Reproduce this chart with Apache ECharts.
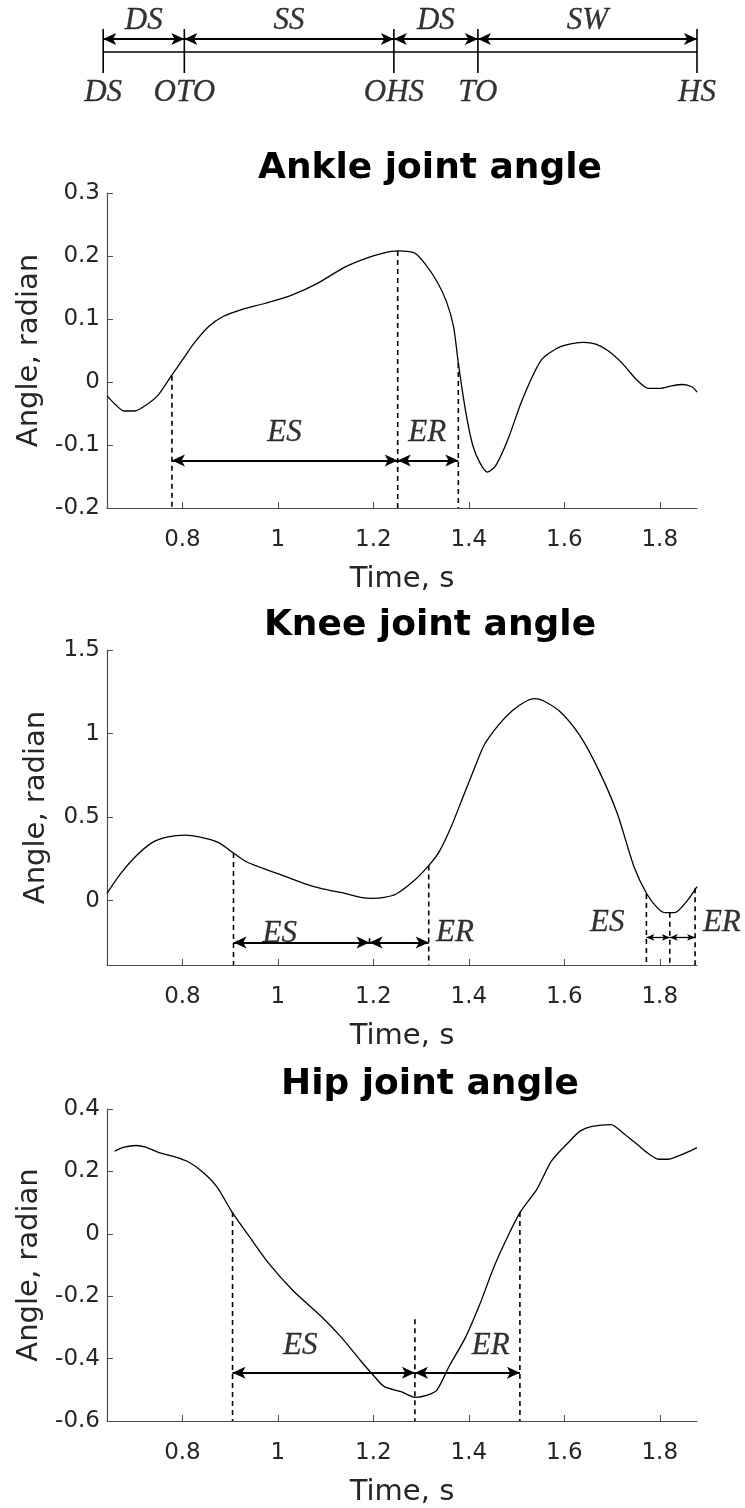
<!DOCTYPE html>
<html>
<head>
<meta charset="utf-8">
<title>Joint angles over a gait cycle</title>
<script src="https://cdn.jsdelivr.net/npm/echarts@6/dist/echarts.min.js"></script>
<style>
  html, body { margin: 0; padding: 0; background: #ffffff; }
  #chart { width: 745px; height: 1508px; }
</style>
</head>
<body>
<div id="chart"></div>
<script>
// ---- Time axis shared by all panels ----
const timeRange = [0.642, 1.878];
const timeTicks = [0.8, 1, 1.2, 1.4, 1.6, 1.8];

// ---- Gait events (top schematic) ----
const eventNames = ['DS', 'OTO', 'OHS', 'TO', 'HS'];
const eventTimes = [0.634, 0.804, 1.243, 1.419, 1.878];
const phaseNames = ['DS', 'SS', 'DS', 'SW'];

// ---- Ankle joint angle ----
const ankleTime = [0.642, 0.660, 0.677, 0.700, 0.725, 0.750, 0.777, 0.800, 0.825, 0.855,
  0.885, 0.924, 0.974, 1.029, 1.084, 1.139, 1.183, 1.223, 1.251, 1.275,
  1.288, 1.308, 1.333, 1.353, 1.368, 1.378, 1.393, 1.408, 1.423, 1.439,
  1.457, 1.482, 1.512, 1.552, 1.592, 1.641, 1.666, 1.691, 1.721, 1.751,
  1.776, 1.800, 1.825, 1.848, 1.868, 1.878];
const ankleAngle = [-0.022, -0.036, -0.046, -0.046, -0.036, -0.020, 0.010, 0.035, 0.062, 0.088,
  0.104, 0.115, 0.125, 0.138, 0.157, 0.182, 0.196, 0.205, 0.208, 0.207,
  0.204, 0.188, 0.160, 0.128, 0.088, 0.030, -0.045, -0.100, -0.128, -0.143,
  -0.132, -0.091, -0.028, 0.035, 0.056, 0.063, 0.060, 0.050, 0.030, 0.004,
  -0.010, -0.010, -0.006, -0.004, -0.008, -0.016];
const ankleTicks = [-0.2, -0.1, 0, 0.1, 0.2, 0.3];
const ankleMarkTime = [0.778, 1.251, 1.378];
const ankleMarkTop = [0.010, 0.208, 0.030];
const ankleSpans = [[0.778, 1.251, -0.1245], [1.251, 1.378, -0.1245]];
const ankleTags = [['ES', 1.014, -0.081], ['ER', 1.313, -0.081]];

// ---- Knee joint angle ----
const kneeTime = [0.642, 0.671, 0.705, 0.740, 0.770, 0.805, 0.835, 0.875, 0.907, 0.934,
  0.969, 1.014, 1.054, 1.094, 1.134, 1.173, 1.198, 1.223, 1.248, 1.283,
  1.316, 1.338, 1.363, 1.388, 1.413, 1.432, 1.462, 1.492, 1.517, 1.537,
  1.557, 1.592, 1.632, 1.672, 1.711, 1.746, 1.773, 1.796, 1.812, 1.831,
  1.856, 1.878];
const kneeAngle = [0.044, 0.163, 0.273, 0.353, 0.382, 0.392, 0.382, 0.349, 0.285, 0.233,
  0.193, 0.147, 0.104, 0.070, 0.048, 0.020, 0.014, 0.020, 0.040, 0.114,
  0.210, 0.293, 0.442, 0.622, 0.801, 0.930, 1.050, 1.139, 1.189, 1.209,
  1.195, 1.129, 0.990, 0.781, 0.522, 0.203, 0.040, -0.046, -0.072, -0.072,
  -0.006, 0.084];
const kneeTicks = [0, 0.5, 1, 1.5];
const kneeMarkTime = [0.907, 1.316, 1.772, 1.821, 1.874];
const kneeMarkTop = [0.285, 0.210, 0.040, -0.072, 0.075];
const kneeSplitMark = [1.192, -0.225, -0.275];
const kneeSpans = [[0.907, 1.192, -0.25], [1.192, 1.316, -0.25]];
const kneeShortSpans = [[1.772, 1.821, -0.22], [1.821, 1.874, -0.22]];
const kneeTags = [['ES', 1.004, -0.20], ['ER', 1.371, -0.19], ['ES', 1.69, -0.13], ['ER', 1.93, -0.13]];

// ---- Hip joint angle ----
const hipTime = [0.658, 0.678, 0.703, 0.723, 0.748, 0.783, 0.813, 0.843, 0.873, 0.903,
  0.943, 0.983, 1.033, 1.093, 1.133, 1.173, 1.203, 1.223, 1.258, 1.288,
  1.313, 1.333, 1.358, 1.393, 1.423, 1.453, 1.483, 1.508, 1.543, 1.573,
  1.608, 1.633, 1.658, 1.698, 1.723, 1.753, 1.778, 1.798, 1.818, 1.838,
  1.863, 1.878];
const hipAngle = [0.265, 0.278, 0.283, 0.278, 0.262, 0.247, 0.230, 0.197, 0.149, 0.072,
  -0.015, -0.099, -0.184, -0.268, -0.332, -0.406, -0.459, -0.490, -0.506, -0.524,
  -0.517, -0.501, -0.427, -0.332, -0.226, -0.105, -0.004, 0.070, 0.144, 0.233,
  0.292, 0.329, 0.344, 0.350, 0.323, 0.286, 0.255, 0.239, 0.239, 0.249,
  0.265, 0.276];
const hipTicks = [-0.6, -0.4, -0.2, 0, 0.2, 0.4];
const hipMarkTime = [0.905, 1.287, 1.507];
const hipMarkTop = [0.070, -0.274, 0.070];
const hipSpans = [[0.905, 1.287, -0.445], [1.287, 1.507, -0.445]];
const hipTags = [['ES', 1.047, -0.358], ['ER', 1.446, -0.358]];

// ---- Styling ----
const SANS = 'DejaVu Sans';
const SERIF = 'Liberation Serif';
const INK = '#262626';
const AXIS = '#4d4d4d';

const panels = [
  { title: 'Ankle joint angle', top: 193, yMin: -0.2, yMax: 0.3, ticks: ankleTicks,
    t: ankleTime, v: ankleAngle, markT: ankleMarkTime, markTop: ankleMarkTop,
    spans: ankleSpans, tags: ankleTags },
  { title: 'Knee joint angle', top: 650, yMin: -0.385, yMax: 1.5, ticks: kneeTicks,
    t: kneeTime, v: kneeAngle, markT: kneeMarkTime, markTop: kneeMarkTop,
    spans: kneeSpans, shortSpans: kneeShortSpans, tags: kneeTags, split: kneeSplitMark },
  { title: 'Hip joint angle', top: 1109, yMin: -0.6, yMax: 0.4, ticks: hipTicks,
    t: hipTime, v: hipAngle, markT: hipMarkTime, markTop: hipMarkTop,
    spans: hipSpans, tags: hipTags }
];

const PLOT_LEFT = 107, PLOT_WIDTH = 590, PLOT_HEIGHT = 315;
const PX_PER_SECOND = PLOT_WIDTH / (timeRange[1] - timeRange[0]);
const grids = [], xAxes = [], yAxes = [], series = [], graphics = [];

const dashStyle = { color: '#000', width: 1.6, type: [5, 4] };
// double-headed arrows between two times at a given level
const arrowLine = (spans, head, width) => ({
  silent: true, animation: false, symbol: ['arrow', 'arrow'], symbolSize: head,
  label: { show: false },
  lineStyle: { color: '#000', width: width, type: 'solid' },
  emphasis: { disabled: true },
  data: spans.map(s => [{ coord: [s[0], s[2]] }, { coord: [s[1], s[2]] }])
});
const tagSeries = (idx, tags, size) => ({
  type: 'scatter', xAxisIndex: idx, yAxisIndex: idx, clip: false, symbolSize: 0,
  silent: true, animation: false,
  data: tags.map(g => ({ name: g[0], value: [g[1], g[2]] })),
  label: { show: true, position: 'inside', formatter: '{b}', fontFamily: SERIF,
           fontStyle: 'italic', fontSize: size, color: '#000',
           textBorderColor: '#000', textBorderWidth: 0.3 }
});

panels.forEach((p, i) => {
  grids.push({ left: PLOT_LEFT, width: PLOT_WIDTH, top: p.top, height: PLOT_HEIGHT });
  xAxes.push({
    type: 'value', gridIndex: i, min: timeRange[0], max: timeRange[1],
    name: 'Time, s', nameLocation: 'middle', nameGap: 57,
    nameTextStyle: { fontFamily: SANS, fontSize: 29, color: INK },
    axisLine: { show: true, onZero: false, lineStyle: { color: AXIS, width: 1.2 } },
    axisTick: { show: true, inside: true, length: 6, customValues: timeTicks, lineStyle: { color: AXIS } },
    axisLabel: { customValues: timeTicks, fontFamily: SANS, fontSize: 23, color: INK, margin: 21 },
    splitLine: { show: false }
  });
  yAxes.push({
    type: 'value', gridIndex: i, min: p.yMin, max: p.yMax,
    name: 'Angle, radian', nameLocation: 'middle', nameGap: 56,
    nameTextStyle: { fontFamily: SANS, fontSize: 29, color: INK },
    axisLine: { show: true, onZero: false, lineStyle: { color: AXIS, width: 1.2 } },
    axisTick: { show: true, inside: true, length: 6, customValues: p.ticks, lineStyle: { color: AXIS } },
    axisLabel: { customValues: p.ticks, fontFamily: SANS, fontSize: 23, color: INK, margin: 7 },
    splitLine: { show: false }
  });

  // joint angle curve, carrying the phase arrows
  series.push({
    type: 'line', xAxisIndex: i, yAxisIndex: i, showSymbol: false, smooth: 0.25,
    animation: false, silent: true,
    lineStyle: { color: '#000', width: 1.3 },
    data: p.t.map((t, k) => [t, p.v[k]]),
    markLine: arrowLine(p.spans, [9, 13], 1.8)
  });
  if (p.shortSpans) {
    // narrow phases get smaller arrowheads
    series.push({
      type: 'line', xAxisIndex: i, yAxisIndex: i, showSymbol: false, silent: true,
      animation: false, lineStyle: { width: 0 }, data: [],
      markLine: arrowLine(p.shortSpans, [5, 8], 1.3)
    });
  }

  // dashed event markers from the curve down to the time axis
  p.markT.forEach((t, k) => {
    series.push({
      type: 'line', xAxisIndex: i, yAxisIndex: i, showSymbol: false, silent: true,
      animation: false, lineStyle: dashStyle,
      data: [[t, p.markTop[k]], [t, p.yMin]]
    });
  });
  if (p.split) {
    series.push({
      type: 'line', xAxisIndex: i, yAxisIndex: i, showSymbol: false, silent: true,
      animation: false, lineStyle: dashStyle,
      data: [[p.split[0], p.split[1]], [p.split[0], p.split[2]]]
    });
  }
  series.push(tagSeries(i, p.tags, 31));

  graphics.push({
    type: 'text', x: 430, y: p.top - 24, silent: true,
    style: { text: p.title, font: 'bold 36px "DejaVu Sans"', fill: '#000',
             align: 'center', verticalAlign: 'middle' }
  });
});

// ---- Gait phase schematic above the panels ----
// Same seconds-to-pixels scale as the panels, with the range widened a little on
// the left so the first event sits inside the axis extent.
const TL = panels.length;
const tlMin = 0.626;
const lvlTickTop = 29, lvlTickBottom = 73, lvlBase = 52, lvlArrow = 39, lvlPhase = 21, lvlEvent = 93;
grids.push({
  left: PLOT_LEFT - (timeRange[0] - tlMin) * PX_PER_SECOND,
  width: PLOT_WIDTH + (timeRange[0] - tlMin) * PX_PER_SECOND,
  top: 0, height: 110
});
xAxes.push({ type: 'value', gridIndex: TL, min: tlMin, max: timeRange[1], show: false });
yAxes.push({ type: 'value', gridIndex: TL, min: 0, max: 110, inverse: true, show: false });

eventTimes.forEach(t => {
  series.push({
    type: 'line', xAxisIndex: TL, yAxisIndex: TL, showSymbol: false, silent: true,
    animation: false, clip: false, lineStyle: { color: '#000', width: 1.6 },
    data: [[t, lvlTickTop], [t, lvlTickBottom]]
  });
});
series.push({
  type: 'line', xAxisIndex: TL, yAxisIndex: TL, showSymbol: false, silent: true,
  animation: false, clip: false, lineStyle: { color: '#000', width: 1.6 },
  data: [[eventTimes[0], lvlBase], [eventTimes[eventTimes.length - 1], lvlBase]],
  markLine: arrowLine(phaseNames.map((n, k) => [eventTimes[k], eventTimes[k + 1], lvlArrow]), [9, 13], 1.8)
});
series.push(tagSeries(TL,
  phaseNames.map((n, k) => [n, (eventTimes[k] + eventTimes[k + 1]) / 2, lvlPhase]), 31));
series.push(tagSeries(TL,
  eventNames.map((n, k) => [n, eventTimes[k], lvlEvent]), 31));

const chart = echarts.init(document.getElementById('chart'), null, { renderer: 'canvas' });
chart.setOption({
  backgroundColor: '#ffffff',
  animation: false,
  grid: grids,
  xAxis: xAxes,
  yAxis: yAxes,
  series: series,
  graphic: graphics
});
</script>
</body>
</html>
